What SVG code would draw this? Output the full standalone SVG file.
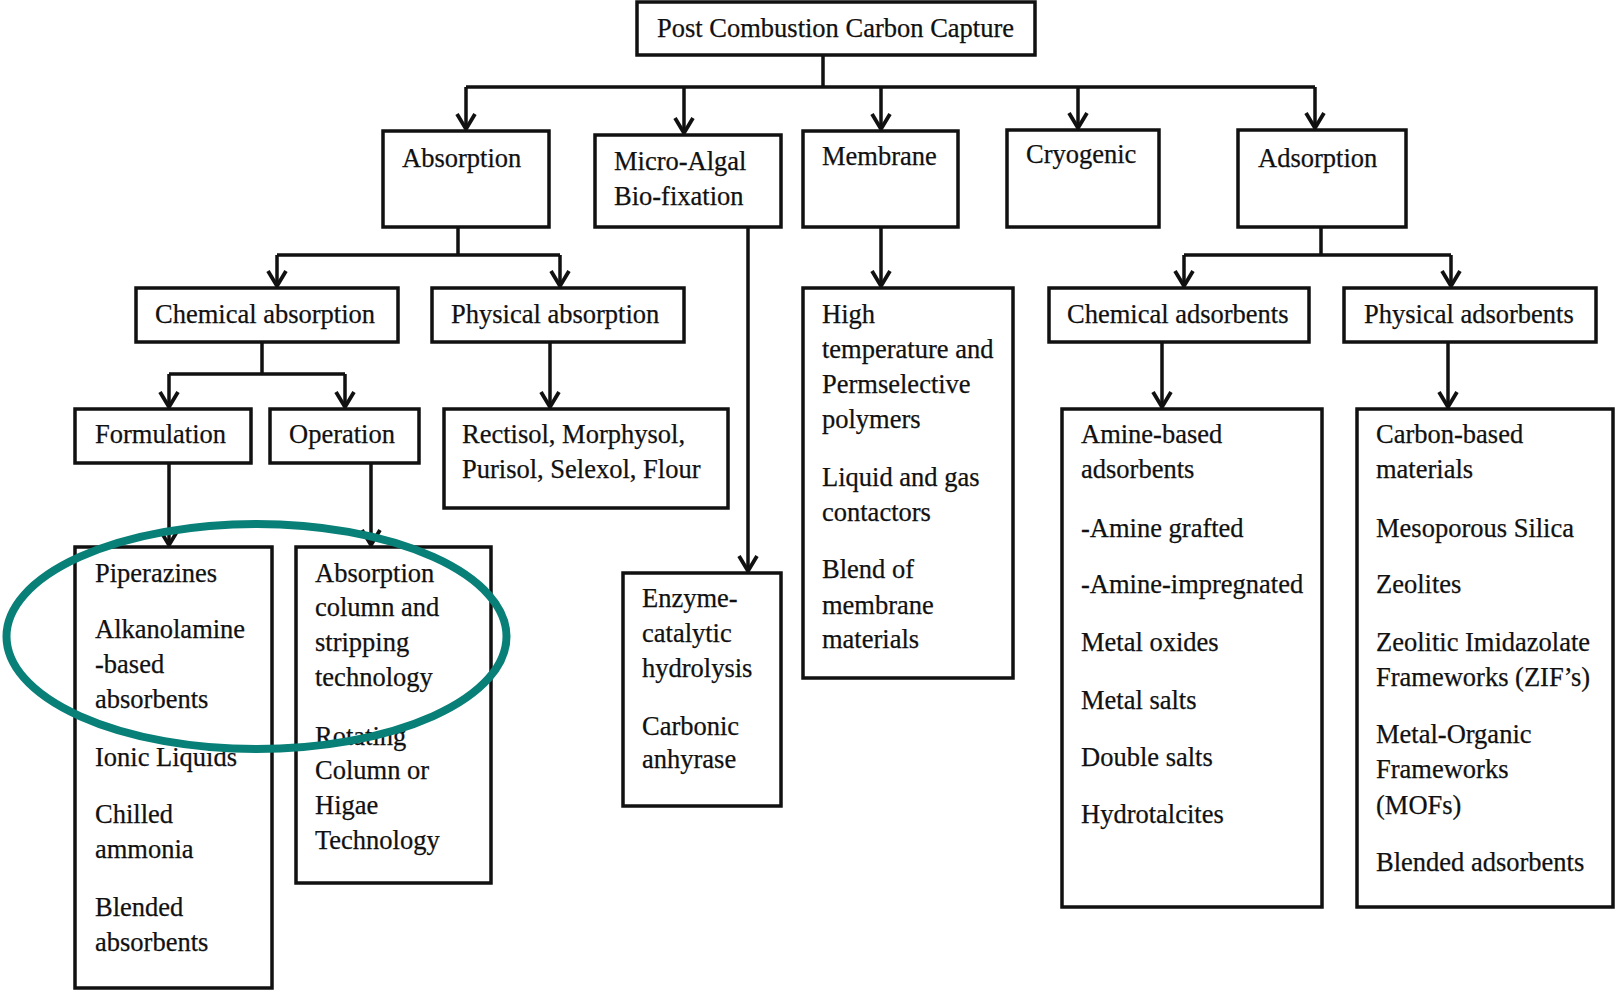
<svg xmlns="http://www.w3.org/2000/svg" width="1615" height="994" viewBox="0 0 1615 994">
<style>
.box{fill:#fff;stroke:#111;stroke-width:3.5}
.t{font-family:"Liberation Serif","Times New Roman",serif;font-size:26.5px;fill:#111;stroke:#111;stroke-width:0.25}
.c{fill:none;stroke:#111;stroke-width:3.5}
.a{fill:none;stroke:#111;stroke-width:3.5;marker-end:url(#arr)}
</style>
<defs>
<marker id="arr" markerUnits="userSpaceOnUse" viewBox="-18 -12 20 24" markerWidth="20" markerHeight="24" refX="0" refY="0" orient="auto">
<path d="M-15,-9 L0,0 L-15,9" fill="none" stroke="#111" stroke-width="3.8"/>
</marker>
</defs>
<rect width="1615" height="994" fill="#fff"/>
<g id="connectors">
<path class="c" d="M823,55 V87 M466,87 H1315"/>
<path class="a" d="M466,87 V129"/>
<path class="a" d="M684,87 V133"/>
<path class="a" d="M881,87 V129"/>
<path class="a" d="M1078,87 V128"/>
<path class="a" d="M1315,87 V128"/>
<path class="c" d="M458,227 V255 M277,255 H560"/>
<path class="a" d="M277,255 V286"/>
<path class="a" d="M560,255 V286"/>
<path class="a" d="M881,227 V286"/>
<path class="c" d="M1321,227 V255 M1184,255 H1451"/>
<path class="a" d="M1184,255 V286"/>
<path class="a" d="M1451,255 V286"/>
<path class="c" d="M262,342 V374 M169,374 H345"/>
<path class="a" d="M169,374 V407"/>
<path class="a" d="M345,374 V407"/>
<path class="a" d="M550,342 V407"/>
<path class="a" d="M1162,342 V407"/>
<path class="a" d="M1448,342 V407"/>
<path class="a" d="M169,463 V545"/>
<path class="a" d="M371,463 V545"/>
<path class="a" d="M748,227 V571"/>
</g>
<g id="root"><rect class="box" x="637" y="2" width="398" height="53"/><text class="t" x="657" y="37">Post Combustion Carbon Capture</text></g>
<g id="absorption"><rect class="box" x="383" y="131" width="166" height="96"/><text class="t" x="402" y="167">Absorption</text></g>
<g id="microalgal"><rect class="box" x="595" y="135" width="186" height="92"/><text class="t" x="614" y="170">Micro-Algal</text><text class="t" x="614" y="205">Bio-fixation</text></g>
<g id="membrane"><rect class="box" x="803" y="131" width="155" height="96"/><text class="t" x="822" y="165">Membrane</text></g>
<g id="cryogenic"><rect class="box" x="1007" y="130" width="152" height="97"/><text class="t" x="1026" y="163">Cryogenic</text></g>
<g id="adsorption"><rect class="box" x="1238" y="130" width="168" height="97"/><text class="t" x="1258" y="167">Adsorption</text></g>
<g id="chemabs"><rect class="box" x="136" y="288" width="262" height="54"/><text class="t" x="155" y="323">Chemical absorption</text></g>
<g id="physabs"><rect class="box" x="432" y="288" width="252" height="54"/><text class="t" x="451" y="323">Physical absorption</text></g>
<g id="membranedetails"><rect class="box" x="803" y="288" width="210" height="390"/>
<text class="t"><tspan x="822" y="323">High</tspan><tspan x="822" y="358">temperature and</tspan><tspan x="822" y="393">Permselective</tspan><tspan x="822" y="428">polymers</tspan><tspan x="822" y="486">Liquid and gas</tspan><tspan x="822" y="521">contactors</tspan><tspan x="822" y="578">Blend of</tspan><tspan x="822" y="614">membrane</tspan><tspan x="822" y="648">materials</tspan></text></g>
<g id="chemads"><rect class="box" x="1049" y="288" width="260" height="54"/><text class="t" x="1067" y="323">Chemical adsorbents</text></g>
<g id="physads"><rect class="box" x="1344" y="288" width="252" height="54"/><text class="t" x="1364" y="323">Physical adsorbents</text></g>
<g id="formulation"><rect class="box" x="75" y="409" width="176" height="54"/><text class="t" x="95" y="443">Formulation</text></g>
<g id="operation"><rect class="box" x="270" y="409" width="149" height="54"/><text class="t" x="289" y="443">Operation</text></g>
<g id="physabsdetails"><rect class="box" x="444" y="409" width="284" height="99"/><text class="t"><tspan x="462" y="443">Rectisol, Morphysol,</tspan><tspan x="462" y="478">Purisol, Selexol, Flour</tspan></text></g>
<g id="chemadsdetails"><rect class="box" x="1062" y="409" width="260" height="498"/>
<text class="t"><tspan x="1081" y="443">Amine-based</tspan><tspan x="1081" y="478">adsorbents</tspan><tspan x="1081" y="537">-Amine grafted</tspan><tspan x="1081" y="593">-Amine-impregnated</tspan><tspan x="1081" y="651">Metal oxides</tspan><tspan x="1081" y="709">Metal salts</tspan><tspan x="1081" y="766">Double salts</tspan><tspan x="1081" y="823">Hydrotalcites</tspan></text></g>
<g id="physadsdetails"><rect class="box" x="1357" y="409" width="256" height="498"/>
<text class="t"><tspan x="1376" y="443">Carbon-based</tspan><tspan x="1376" y="478">materials</tspan><tspan x="1376" y="537">Mesoporous Silica</tspan><tspan x="1376" y="593">Zeolites</tspan><tspan x="1376" y="651">Zeolitic Imidazolate</tspan><tspan x="1376" y="686">Frameworks (ZIF’s)</tspan><tspan x="1376" y="743">Metal-Organic</tspan><tspan x="1376" y="778">Frameworks</tspan><tspan x="1376" y="814">(MOFs)</tspan><tspan x="1376" y="871">Blended adsorbents</tspan></text></g>
<g id="formulationdetails"><rect class="box" x="75" y="547" width="197" height="441"/>
<text class="t"><tspan x="95" y="582">Piperazines</tspan><tspan x="95" y="638">Alkanolamine</tspan><tspan x="95" y="673">-based</tspan><tspan x="95" y="708">absorbents</tspan><tspan x="95" y="766">Ionic Liquids</tspan><tspan x="95" y="823">Chilled</tspan><tspan x="95" y="858">ammonia</tspan><tspan x="95" y="916">Blended</tspan><tspan x="95" y="951">absorbents</tspan></text></g>
<g id="operationdetails"><rect class="box" x="296" y="547" width="195" height="336"/>
<text class="t"><tspan x="315" y="582">Absorption</tspan><tspan x="315" y="616">column and</tspan><tspan x="315" y="651">stripping</tspan><tspan x="315" y="686">technology</tspan><tspan x="315" y="745">Rotating</tspan><tspan x="315" y="779">Column or</tspan><tspan x="315" y="814">Higae</tspan><tspan x="315" y="849">Technology</tspan></text></g>
<g id="microalgaldetails"><rect class="box" x="623" y="573" width="158" height="233"/>
<text class="t"><tspan x="642" y="607">Enzyme-</tspan><tspan x="642" y="642">catalytic</tspan><tspan x="642" y="677">hydrolysis</tspan><tspan x="642" y="735">Carbonic</tspan><tspan x="642" y="768">anhyrase</tspan></text></g>
<g id="highlight"><ellipse cx="256.5" cy="636.5" rx="250" ry="112.5" fill="none" stroke="#087f77" stroke-width="8"/></g>
</svg>
